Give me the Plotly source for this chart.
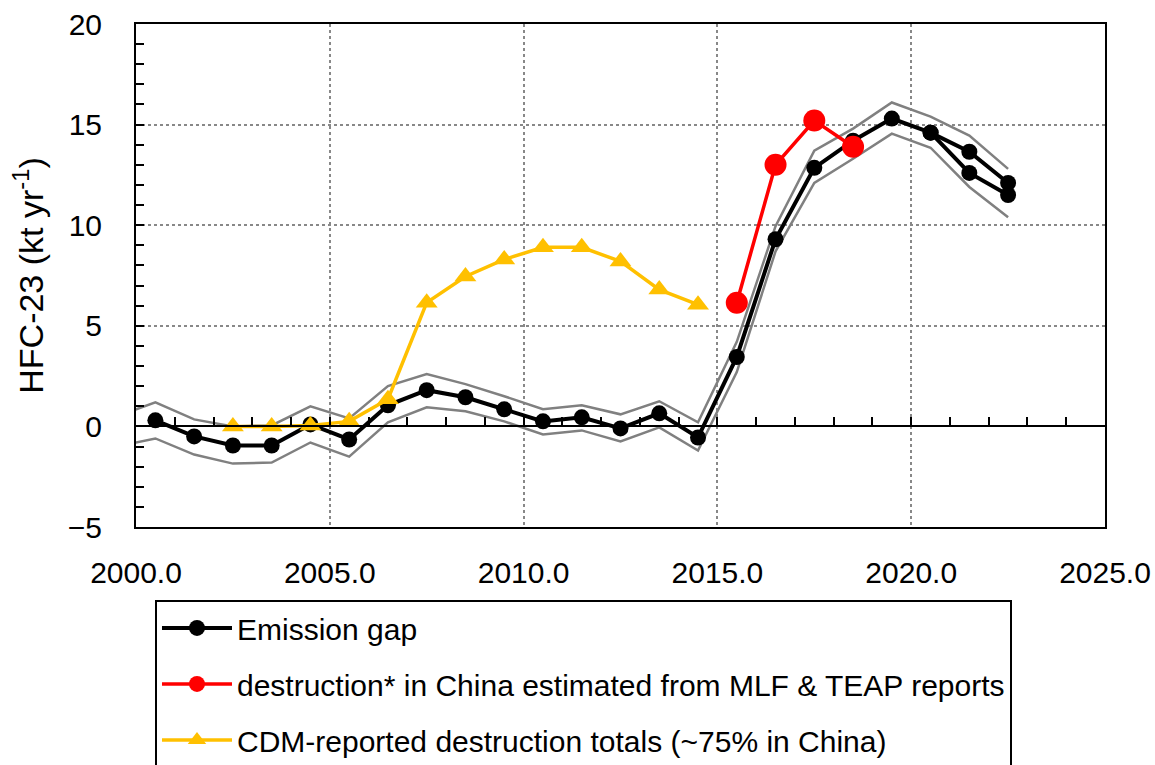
import plotly.graph_objects as go

# Annual values plotted at mid-year
gap_years = [2000.5, 2001.5, 2002.5, 2003.5, 2004.5, 2005.5, 2006.5, 2007.5, 2008.5,
             2009.5, 2010.5, 2011.5, 2012.5, 2013.5, 2014.5, 2015.5, 2016.5, 2017.5,
             2018.5, 2019.5, 2020.5, 2021.5, 2022.5]
gap_values = [0.3, -0.5, -0.95, -0.95, 0.1, -0.65, 1.05, 1.8, 1.45,
              0.85, 0.25, 0.45, -0.1, 0.65, -0.55, 3.45, 9.3, 12.85,
              14.2, 15.3, 14.6, 13.65, 12.1]

# Alternative estimate for the most recent years
gap_alt_years = [2020.5, 2021.5, 2022.5]
gap_alt_values = [14.6, 12.6, 11.5]

# Uncertainty bounds of the emission gap
bound_years = [1999.5, 2000.5, 2001.5, 2002.5, 2003.5, 2004.5, 2005.5, 2006.5, 2007.5,
               2008.5, 2009.5, 2010.5, 2011.5, 2012.5, 2013.5, 2014.5, 2015.5, 2016.5,
               2017.5, 2018.5, 2019.5, 2020.5, 2021.5, 2022.5]
upper_values = [0.5, 1.2, 0.35, 0.0, 0.05, 1.0, 0.4, 2.0, 2.6,
                2.1, 1.5, 0.85, 1.05, 0.6, 1.25, 0.2, 4.2, 9.95,
                13.7, 14.8, 16.1, 15.4, 14.45, 12.8]
lower_values = [-1.0, -0.6, -1.4, -1.85, -1.8, -0.8, -1.5, 0.2, 0.95,
                0.75, 0.25, -0.4, -0.2, -0.75, -0.05, -1.2, 2.7, 8.7,
                12.1, 13.3, 14.55, 13.85, 11.9, 10.4]

mlf_years = [2015.5, 2016.5, 2017.5, 2018.5]
mlf_values = [6.15, 13.0, 15.2, 13.9]

cdm_years = [2002.5, 2003.5, 2004.5, 2005.5, 2006.5, 2007.5, 2008.5,
             2009.5, 2010.5, 2011.5, 2012.5, 2013.5, 2014.5]
cdm_values = [0.0, 0.0, 0.05, 0.25, 1.35, 6.15, 7.45,
              8.3, 8.9, 8.9, 8.2, 6.8, 6.05]

x_ticks = [2000, 2005, 2010, 2015, 2020, 2025]
x_tick_labels = ["2000.0", "2005.0", "2010.0", "2015.0", "2020.0", "2025.0"]
y_ticks = [-5, 0, 5, 10, 15, 20]

FONT = "Liberation Sans"
BLACK = "#000000"
GREY = "#808080"
RED = "#FF0000"
GOLD = "#FFC000"

fig = go.Figure()

for vals in (upper_values, lower_values):
    fig.add_trace(go.Scatter(x=bound_years, y=vals, mode="lines",
                             line=dict(color=GREY, width=2.5),
                             showlegend=False, hoverinfo="skip"))

fig.add_trace(go.Scatter(x=gap_alt_years, y=gap_alt_values, mode="lines+markers",
                         line=dict(color=BLACK, width=4),
                         marker=dict(color=BLACK, size=16, symbol="circle"),
                         showlegend=False))

fig.add_trace(go.Scatter(x=gap_years, y=gap_values, mode="lines+markers",
                         name="Emission gap", legendgroup="a",
                         line=dict(color=BLACK, width=4),
                         marker=dict(color=BLACK, size=16, symbol="circle")))

fig.add_trace(go.Scatter(x=mlf_years, y=mlf_values, mode="lines+markers",
                         name="destruction* in China estimated from MLF & TEAP reports",
                         legendgroup="b",
                         line=dict(color=RED, width=3.5),
                         marker=dict(color=RED, size=22, symbol="circle")))

fig.add_trace(go.Scatter(x=cdm_years, y=cdm_values, mode="lines+markers",
                         name="CDM-reported destruction totals (~75% in China)",
                         legendgroup="c",
                         line=dict(color=GOLD, width=3.5),
                         marker=dict(color=GOLD, size=19, symbol="triangle-up")))

fig.update_layout(
    width=1155, height=765,
    margin=dict(l=136, r=50, t=24, b=238, autoexpand=False),
    paper_bgcolor="white", plot_bgcolor="white",
    font=dict(family=FONT, size=30, color=BLACK),
    showlegend=True,
    legend=dict(x=0.0196, y=-0.145, xanchor="left", yanchor="top",
                bordercolor=BLACK, borderwidth=2, bgcolor="white",
                font=dict(family=FONT, size=30, color=BLACK),
                traceorder="grouped", tracegroupgap=14, itemwidth=70),
    xaxis=dict(range=[2000, 2025], tickvals=x_ticks, ticktext=x_tick_labels,
               showline=True, linecolor=BLACK, linewidth=2, mirror=True,
               ticks="", showgrid=True, gridcolor="#888888", griddash="dot",
               gridwidth=2, zeroline=False, ticklabelstandoff=18,
               tickfont=dict(family=FONT, size=30)),
    xaxis2=dict(range=[2000, 2025], overlaying="x", anchor="free", position=0.2,
                side="bottom", showline=True, linecolor=BLACK, linewidth=2,
                ticks="inside", ticklen=8, tickwidth=2, tickcolor=BLACK,
                dtick=1, tick0=2000, showticklabels=False, showgrid=False,
                zeroline=False),
    yaxis=dict(range=[-5, 20], tickvals=y_ticks,
               showline=True, linecolor=BLACK, linewidth=2, mirror=True,
               ticks="inside", ticklen=8, tickwidth=2, tickcolor=BLACK,
               minor=dict(ticks="inside", dtick=1, ticklen=8, tickwidth=2,
                          tickcolor=BLACK, showgrid=False),
               showgrid=True, gridcolor="#888888", griddash="dot", gridwidth=2,
               zeroline=False, ticklabelstandoff=26,
               tickfont=dict(family=FONT, size=30),
               title=dict(text="HFC-23 (kt yr<sup>-1</sup>)", standoff=14,
                          font=dict(family=FONT, size=34))),
)

# the xaxis2 needs a (hidden) trace to be rendered
fig.add_trace(go.Scatter(x=[2000, 2025], y=[0, 0], xaxis="x2", mode="lines",
                         line=dict(width=0), showlegend=False, hoverinfo="skip"))

fig.write_html("out.html")
